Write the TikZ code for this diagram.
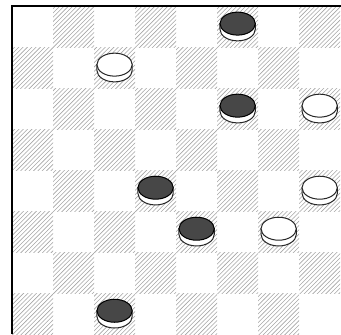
\documentclass[tikz,border=0pt]{standalone}
\usepackage{tikz}
\usetikzlibrary{patterns}

\begin{document}
\begin{tikzpicture}[x=1cm,y=1cm,
  darksq/.style={pattern=north east lines,pattern color=black!35},
  rim/.style={fill=white,draw=black!85,line width=0.7pt},
  blacktop/.style={fill=black!72,draw=black,line width=0.7pt},
  whitetop/.style={fill=white,draw=black!85,line width=0.7pt}]
\useasboundingbox (-0.293,0) rectangle (8.02,8.146);
% hatched squares
\foreach \r in {0,...,7} {
  \foreach \c in {0,...,7} {
    \pgfmathparse{int(mod(\r+\c,2))}
    \ifnum\pgfmathresult=1
      \fill[darksq] (\c,7-\r) rectangle +(1,1);
    \fi
  }
}
\draw[line width=1.3pt] (0,0) -- (0,8) -- (8.02,8);
% black men
\foreach \c/\r in {5/0,5/2,3/4,4/5,2/7} {
  \filldraw[rim] (\c+0.07,7.57-\r) -- ++(0,-0.14)
     arc (180:360:0.43 and 0.28) -- ++(0,0.14) -- cycle;
  \filldraw[blacktop] (\c+0.5,7.57-\r) ellipse (0.43 and 0.28);
}
% white men
\foreach \c/\r in {2/1,7/2,7/4,6/5} {
  \filldraw[rim] (\c+0.07,7.57-\r) -- ++(0,-0.14)
     arc (180:360:0.43 and 0.28) -- ++(0,0.14) -- cycle;
  \filldraw[whitetop] (\c+0.5,7.57-\r) ellipse (0.43 and 0.28);
}
\end{tikzpicture}
\end{document}
